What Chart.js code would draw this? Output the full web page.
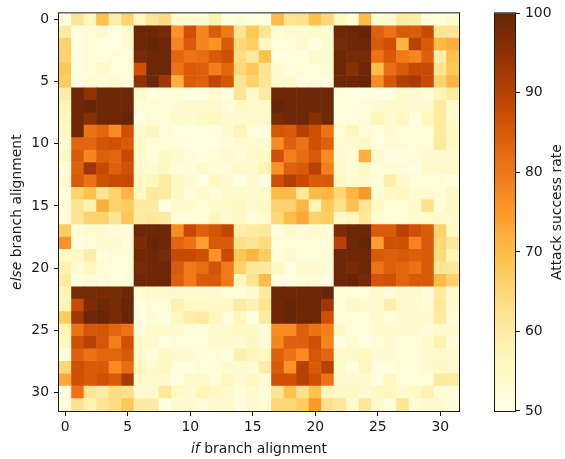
<!DOCTYPE html>
<html>
<head>
<meta charset="utf-8">
<style>
  html, body { margin:0; padding:0; background:#fff; }
  #wrap { position:relative; width:565px; height:459px; overflow:hidden; }
  canvas { position:absolute; top:0; }
  #heat { left:0; }
  #bar { left:470px; }
</style>
<script src="https://cdn.jsdelivr.net/npm/chart.js@4"></script>
</head>
<body>
<div id="wrap">
  <canvas id="heat" width="470" height="459"></canvas>
  <canvas id="bar" width="95" height="459"></canvas>
</div>
<script>
// rows = else branch alignment, columns = if branch alignment
let attackRate = [
  [51,62,56,69,59,66,56,62,64,53,53,53,58,51,52,51, 51,70,62,63,69,65,56,52,70,53,54,60,59,52,52,53],
  [60,51,52,53,51,53,99,99,98,76,87,78,85,80,62,68, 62,52,53,53,54,52,99,99,100,84,81,85,85,88,62,62],
  [66,51,52,51,51,53,99,100,99,78,85,78,76,85,65,67, 56,52,52,54,51,53,98,99,99,85,87,71,90,85,70,72],
  [66,51,52,51,52,52,98,99,99,83,81,82,85,87,64,60, 69,51,51,51,54,53,99,98,98,81,85,80,78,84,59,69],
  [68,51,52,54,52,52,87,99,99,81,85,84,79,83,65,68, 62,53,51,52,52,52,99,96,99,70,82,85,88,88,62,68],
  [67,51,53,52,53,51,95,99,93,72,85,84,89,86,62,66, 62,54,53,51,52,51,99,99,100,77,86,91,92,88,66,71],
  [59,99,95,99,99,99,54,51,52,52,51,51,53,51,62,54, 60,99,99,99,99,99,51,51,51,51,51,54,53,52,57,60],
  [57,99,100,99,99,99,52,52,52,53,54,54,54,52,55,54, 54,100,99,99,99,99,51,51,52,53,54,54,53,54,60,54],
  [56,99,96,99,99,100,51,52,52,54,53,55,56,53,53,54, 54,98,99,99,96,99,51,51,52,57,53,56,51,56,60,54],
  [55,99,81,83,77,87,53,56,52,51,51,51,51,53,57,52, 51,86,85,90,87,81,52,56,52,51,53,52,52,52,60,55],
  [53,83,83,86,87,85,55,52,52,52,51,51,51,52,53,53, 53,77,84,81,87,84,53,53,55,51,52,52,52,52,61,55],
  [55,85,78,84,83,88,54,52,55,53,52,51,52,53,52,54, 55,87,79,82,85,77,53,52,72,53,51,51,52,53,53,53],
  [52,84,93,88,84,87,54,53,55,52,52,54,52,52,54,54, 57,76,84,85,90,79,54,52,55,52,52,52,51,54,54,54],
  [54,85,81,87,88,88,55,56,60,55,53,51,55,53,51,53, 51,87,91,88,85,85,55,53,53,52,59,54,52,52,52,51],
  [51,66,69,62,66,71,55,61,60,55,52,54,52,54,54,53, 54,70,70,61,70,71,65,71,75,52,55,56,53,53,52,55],
  [52,62,58,72,66,67,60,60,51,53,53,52,54,54,55,53, 55,66,66,71,57,68,63,69,62,55,52,52,54,63,52,55],
  [52,62,66,66,62,68,60,61,60,52,52,52,56,53,55,52, 53,65,70,73,66,67,55,56,61,53,52,52,53,53,54,54],
  [67,52,53,53,52,52,99,99,99,77,88,84,86,89,59,60, 61,51,54,52,53,52,97,99,99,85,85,90,87,85,66,55],
  [76,51,52,53,54,52,97,100,99,83,81,74,85,85,63,62, 64,52,52,52,52,52,90,99,100,74,87,87,78,85,65,61],
  [55,55,59,51,52,52,99,99,98,88,88,87,76,88,68,71, 67,52,53,52,52,52,99,99,99,85,84,85,84,85,64,57],
  [58,53,56,52,52,52,98,99,99,85,80,82,86,80,66,61, 61,55,51,53,53,52,99,98,99,81,84,83,81,85,62,61],
  [60,51,52,52,51,52,99,99,99,84,80,85,85,80,56,62, 70,51,51,52,52,51,99,100,98,86,87,83,85,85,70,66],
  [57,98,98,98,98,99,52,54,54,53,53,53,53,52,52,53, 60,99,99,99,99,100,52,52,52,54,52,53,54,52,60,53],
  [57,88,97,99,98,100,51,52,52,58,55,55,54,55,60,58, 62,99,100,99,99,93,52,55,53,53,59,54,53,52,61,54],
  [67,93,99,100,98,100,51,52,51,56,59,60,56,52,56,51, 60,99,100,99,99,87,52,52,52,54,52,53,53,54,60,52],
  [57,81,86,86,83,81,52,54,54,53,52,52,53,54,55,55, 52,77,77,84,81,79,55,52,52,53,53,53,53,52,54,54],
  [56,87,90,86,79,87,54,54,51,52,52,52,53,54,53,56, 52,78,84,84,87,78,51,53,51,52,53,52,52,54,58,52],
  [51,84,81,83,83,85,54,52,55,53,53,52,52,51,58,57, 55,84,81,77,86,83,54,54,55,53,53,52,52,53,54,53],
  [65,87,85,85,77,82,56,54,56,51,51,52,52,53,53,53, 59,85,76,90,85,90,54,51,56,51,51,52,52,53,55,54],
  [73,87,85,87,85,92,54,54,54,51,54,54,52,56,53,56, 52,87,87,90,87,81,54,53,53,51,56,52,52,52,60,60],
  [51,81,62,60,64,63,54,54,61,55,53,57,55,54,52,53, 52,62,69,63,69,56,55,55,53,55,56,53,55,58,52,52],
  [51,63,58,62,64,68,60,60,51,53,54,52,53,54,51,53, 52,65,65,67,75,63,61,53,61,54,52,62,52,53,53,52]
]
let alignTicks = [0,5,10,15,20,25,30]
let colorbarTicks = [50,60,70,80,90,100]
let colorRange = [50,100]
let ylOrBr = ['#ffffe5','#fff7bc','#fee391','#fec44f','#fe9929','#ec7014','#cc4c02','#993404','#662506']

let xTitle = [['if',true],[' branch alignment',false]]
let yTitle = [['else',true],[' branch alignment',false]]
let barTitle = [['Attack success rate',false]]

let textColor = '#1a1a1a'
let fontFamily = '"DejaVu Sans", sans-serif'
let fontSize = 13.9

function hexToRgb(h){
  return [parseInt(h.slice(1,3),16),parseInt(h.slice(3,5),16),parseInt(h.slice(5,7),16)]
}

function colorFor(v){
  let t = (v-colorRange[0])/(colorRange[1]-colorRange[0])*(ylOrBr.length-1)
  t = Math.max(0,Math.min(ylOrBr.length-1,t))
  let i = Math.min(Math.floor(t),ylOrBr.length-2)
  let a = hexToRgb(ylOrBr[i]), b = hexToRgb(ylOrBr[i+1])
  let f = t-i
  return 'rgb('+a.map((c,k)=>Math.round(c+(b[k]-c)*f)).join(',')+')'
}

// axis title with some words in italics, optionally rotated
function drawTitle(ctx,parts,cx,cy,rot){
  ctx.save()
  ctx.translate(cx,cy)
  ctx.rotate(rot)
  ctx.fillStyle = textColor
  ctx.textBaseline = 'middle'
  ctx.textAlign = 'left'
  let total = 0
  parts.forEach(p=>{
    ctx.font = (p[1]?'italic ':'')+fontSize+'px '+fontFamily
    total += ctx.measureText(p[0]).width
  })
  let x = -total/2
  parts.forEach(p=>{
    ctx.font = (p[1]?'italic ':'')+fontSize+'px '+fontFamily
    ctx.fillText(p[0],x,0)
    x += ctx.measureText(p[0]).width
  })
  ctx.restore()
}

let framePlugin = {
  id:'frame',
  afterDraw(chart){
    let a = chart.chartArea, ctx = chart.ctx
    ctx.save()
    ctx.strokeStyle = textColor
    ctx.lineWidth = 1
    ctx.strokeRect(a.left-0.5,a.top-0.5,a.right-a.left+1,a.bottom-a.top+1)
    ctx.restore()
  }
}

let heatTitles = {
  id:'heatTitles',
  afterDraw(chart){
    let a = chart.chartArea
    drawTitle(chart.ctx,xTitle,(a.left+a.right)/2,449,0)
    drawTitle(chart.ctx,yTitle,17,(a.top+a.bottom)/2,-Math.PI/2)
  }
}

let barTitles = {
  id:'barTitles',
  afterDraw(chart){
    let a = chart.chartArea
    drawTitle(chart.ctx,barTitle,87,(a.top+a.bottom)/2,-Math.PI/2)
  }
}

let cells = []
attackRate.forEach((row,r)=>row.forEach((v,c)=>cells.push({x:c,y:r,v:v})))

function axisTicks(values){
  return scale=>{ scale.ticks = values.map(v=>({value:v})) }
}

function tickOpts(padding){
  return {color:textColor,font:{family:fontFamily,size:fontSize},padding:padding,autoSkip:false,maxRotation:0}
}
let gridOpts = {drawOnChartArea:false,tickLength:5,tickColor:textColor,tickWidth:1}

let heat = new Chart(document.querySelector('#heat').getContext('2d'),{
  type:'scatter',
  data:{
    datasets:[{
      data:cells,
      pointStyle:'rect',
      pointBorderWidth:0,
      pointBackgroundColor:ctx=>colorFor(ctx.raw.v),
      pointRadius:ctx=>{
        let s = ctx.chart.scales.x
        return (Math.abs(s.getPixelForValue(1)-s.getPixelForValue(0))+0.6)/Math.SQRT2
      },
      pointHoverRadius:9
    }]
  },
  options:{
    responsive:false,
    animation:false,
    events:[],
    layout:{padding:{top:11,left:0,right:11,bottom:0}},
    plugins:{legend:{display:false},tooltip:{enabled:false}},
    scales:{
      x:{
        type:'linear',min:-0.5,max:31.5,
        afterBuildTicks:axisTicks(alignTicks),
        afterFit:s=>{ s.height = 48 },
        ticks:tickOpts(3),grid:gridOpts,border:{display:false}
      },
      y:{
        type:'linear',reverse:true,min:-0.5,max:31.5,
        afterBuildTicks:axisTicks(alignTicks),
        afterFit:s=>{ s.width = 59 },
        ticks:tickOpts(5),grid:gridOpts,border:{display:false}
      }
    }
  },
  plugins:[framePlugin,heatTitles]
})

let bar = new Chart(document.querySelector('#bar').getContext('2d'),{
  type:'bar',
  data:{
    labels:['rate'],
    datasets:[{
      data:[colorRange],
      barPercentage:1,
      categoryPercentage:1,
      backgroundColor:ctx=>{
        let a = ctx.chart.chartArea
        if(!a) return ylOrBr[4]
        let g = ctx.chart.ctx.createLinearGradient(0,a.bottom,0,a.top)
        ylOrBr.forEach((c,i)=>g.addColorStop(i/(ylOrBr.length-1),c))
        return g
      }
    }]
  },
  options:{
    responsive:false,
    animation:false,
    events:[],
    layout:{padding:{top:11,left:25,right:0,bottom:48}},
    plugins:{legend:{display:false},tooltip:{enabled:false}},
    scales:{
      x:{display:false},
      y:{
        position:'right',min:colorRange[0],max:colorRange[1],
        afterBuildTicks:axisTicks(colorbarTicks),
        afterFit:s=>{ s.width = 50 },
        ticks:tickOpts(5),grid:gridOpts,border:{display:false}
      }
    }
  },
  plugins:[framePlugin,barTitles]
})
</script>
</body>
</html>
